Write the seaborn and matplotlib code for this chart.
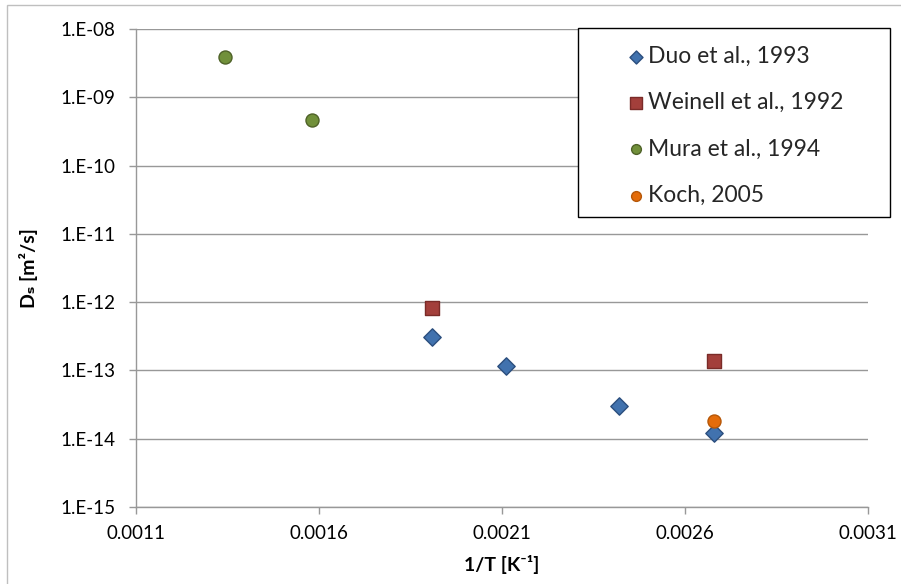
import math
import matplotlib
matplotlib.use("Agg")
import matplotlib.pyplot as plt
from matplotlib.patches import Rectangle
from matplotlib.ticker import FixedLocator, FuncFormatter, NullLocator
import seaborn as sns
import pandas as pd

# Surface diffusion coefficients vs. inverse temperature
duo_x = [0.00191, 0.00211, 0.00242, 0.00268]
duo_y = [3.05e-13, 1.18e-13, 3.05e-14, 1.2e-14]

weinell_x = [0.00191, 0.00268]
weinell_y = [8.3e-13, 1.39e-13]

mura_x = [0.001343, 0.001581]
mura_y = [3.9e-9, 4.65e-10]

koch_x = [0.00268]
koch_y = [1.8e-14]

series_names = ["Duo et al., 1993", "Weinell et al., 1992", "Mura et al., 1994", "Koch, 2005"]

x_ticks = [0.0011, 0.0016, 0.0021, 0.0026, 0.0031]
y_exponents = [-15, -14, -13, -12, -11, -10, -9, -8]

sns.set_theme(style="white")
plt.rcParams["font.family"] = ["Lato", "DejaVu Sans"]

df = pd.concat([
    pd.DataFrame({"x": duo_x, "y": duo_y, "series": series_names[0]}),
    pd.DataFrame({"x": weinell_x, "y": weinell_y, "series": series_names[1]}),
    pd.DataFrame({"x": mura_x, "y": mura_y, "series": series_names[2]}),
    pd.DataFrame({"x": koch_x, "y": koch_y, "series": series_names[3]}),
], ignore_index=True)

styles = {
    series_names[0]: dict(marker="D", s=78, color="#4172AE", edgecolor="#2B4E7E"),
    series_names[1]: dict(marker="s", s=112, color="#A33F3B", edgecolor="#7A2B28"),
    series_names[2]: dict(marker="o", s=88, color="#71903A", edgecolor="#4F6228"),
    series_names[3]: dict(marker="o", s=88, color="#E46C0A", edgecolor="#B65708"),
}

fig = plt.figure(figsize=(9.01, 5.84), dpi=100)
ax = fig.add_axes([136 / 901, 1 - 507 / 584, (868 - 136) / 901, (507 - 29) / 584])

for name in series_names:
    sub = df[df["series"] == name]
    st = styles[name]
    sns.scatterplot(data=sub, x="x", y="y", ax=ax, marker=st["marker"], s=st["s"],
                    color=st["color"], edgecolor=st["edgecolor"], linewidth=1.0,
                    label=name, zorder=3)

ax.set_yscale("log")
ax.set_xlim(x_ticks[0], x_ticks[-1])
ax.set_ylim(10.0 ** y_exponents[0], 10.0 ** y_exponents[-1])

ax.xaxis.set_major_locator(FixedLocator(x_ticks))
ax.xaxis.set_major_formatter(FuncFormatter(lambda v, p: f"{v:.4f}"))
ax.yaxis.set_major_locator(FixedLocator([10.0 ** e for e in y_exponents]))
ax.yaxis.set_minor_locator(NullLocator())
ax.yaxis.set_major_formatter(FuncFormatter(lambda v, p: "1.E-%02d" % round(-math.log10(v))))

grid_col = "#989898"
ax.grid(axis="y", color=grid_col, linewidth=1.0)
ax.grid(axis="x", visible=False)
for side in ["top", "right"]:
    ax.spines[side].set_visible(False)
for side in ["left", "bottom"]:
    ax.spines[side].set_color(grid_col)
    ax.spines[side].set_linewidth(1.0)

ax.tick_params(axis="both", which="major", direction="out", length=5, width=1.0,
               color=grid_col, labelsize=13.5, labelcolor="#000000")
ax.tick_params(axis="y", pad=10)
ax.tick_params(axis="x", pad=8)
ax.tick_params(left=True, bottom=True)

ax.set_xlabel("1/T [K⁻¹]", fontsize=14, fontweight="bold", color="black", labelpad=9)
ax.set_ylabel("Dₛ [m²/s]", fontsize=14, fontweight="bold", color="black", labelpad=16)

# Legend in its own box, overlapping the upper right of the plot
ax.legend_.remove()
handles, labels = ax.get_legend_handles_labels()
box = Rectangle((578 / 901, 1 - 217 / 584), (890 - 578) / 901, (217 - 28) / 584,
                transform=fig.transFigure, facecolor="white", edgecolor="black",
                linewidth=1.0, zorder=5)
fig.patches.append(box)
leg = fig.legend(handles, labels, loc="upper left",
                 bbox_to_anchor=(610 / 901, 1 - 30 / 584), frameon=False,
                 fontsize=16.5, markerscale=0.75, handletextpad=0.05, handlelength=0.9,
                 labelspacing=1.1, borderpad=0.2)
leg.set_zorder(6)

# Thin chart-area frame
fig.patches.append(Rectangle((7 / 901, -0.1), 2.0, 1 - 5 / 584 + 0.1,
                             transform=fig.transFigure, facecolor="none",
                             edgecolor="#BFBFBF", linewidth=1.0, zorder=0))

fig.savefig("out.png", dpi=100)
